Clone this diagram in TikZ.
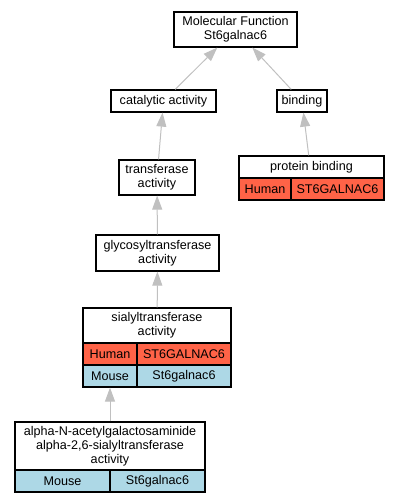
\documentclass[tikz,border=0pt]{standalone}
\usepackage{fontspec}
\setmainfont{Liberation Sans}
\usetikzlibrary{arrows.meta}
\definecolor{human}{HTML}{FF6347}
\definecolor{mouse}{HTML}{ADD8E6}
\definecolor{edgegray}{HTML}{C0C0C0}
\begin{document}
\begin{tikzpicture}[x=1pt,y=-1pt,
  txt/.style={font=\fontsize{12.6}{13.8}\selectfont},
  box/.style={txt, draw=black, line width=1.2pt, fill=white, inner sep=0pt, align=center},
  frame/.style={draw=black, line width=1.2pt, inner sep=0pt},
  cell/.style={txt, draw=black, line width=1.2pt, inner sep=0pt, minimum height=22pt},
  lbl/.style={txt, inner sep=0pt, align=center},
  arr/.style={draw=edgegray, line width=1pt, -{Triangle[length=14pt,width=10pt]}}]
\useasboundingbox (0,0) rectangle (400,504);
% simple boxes
\node[box, minimum width=123pt, minimum height=35pt] (mf) at (235.5,29.5) {Molecular Function\\St6galnac6};
\node[box, minimum width=105pt, minimum height=22pt] (cat) at (163.5,101) {catalytic activity};
\node[box, minimum width=50pt, minimum height=22pt] (bind) at (302,101) {binding};
\node[box, minimum width=76pt, minimum height=35pt] (trans) at (157,177.5) {transferase\\activity};
\node[box, minimum width=123pt, minimum height=36pt] (glyco) at (157.5,253) {glycosyltransferase\\activity};
% protein binding
\node[cell, fill=human, minimum width=52pt] (protl) at (265,189) {Human};
\node[cell, fill=human, minimum width=93pt] (protr) at (337.5,189) {ST6GALNAC6};
\node[lbl] (prott) at (311.5,167) {protein binding};
\node[frame, minimum width=145pt, minimum height=44pt] (prot) at (311.5,178) {};
% sialyltransferase
\node[cell, fill=human, minimum width=54pt] (siahl) at (110,354) {Human};
\node[cell, fill=human, minimum width=94pt] (siahr) at (184,354) {ST6GALNAC6};
\node[cell, fill=mouse, minimum width=54pt] (siaml) at (110,376) {Mouse};
\node[cell, fill=mouse, minimum width=94pt] (siamr) at (184,376) {St6galnac6};
\node[lbl] (siat) at (157,325.5) {sialyltransferase\\activity};
\node[frame, minimum width=148pt, minimum height=79pt] (sia) at (157,347.5) {};
% alpha
\node[cell, fill=mouse, minimum width=95pt] (alml) at (62.5,481) {Mouse};
\node[cell, fill=mouse, minimum width=95pt] (almr) at (157.5,481) {St6galnac6};
\node[lbl] (alt) at (110,446) {alpha-N-acetylgalactosaminide\\alpha-2,6-sialyltransferase\\activity};
\node[frame, minimum width=190pt, minimum height=70pt] (alpha) at (110,457) {};
% edges
\draw[arr] (cat) -- (mf);
\draw[arr] (bind) -- (mf);
\draw[arr] (prot) -- (bind);
\draw[arr] (trans) -- (cat);
\draw[arr] (glyco) -- (trans);
\draw[arr] (sia) -- (glyco);
\draw[arr] (alpha.north) -- (alpha.north |- sia.south);
\end{tikzpicture}
\end{document}
